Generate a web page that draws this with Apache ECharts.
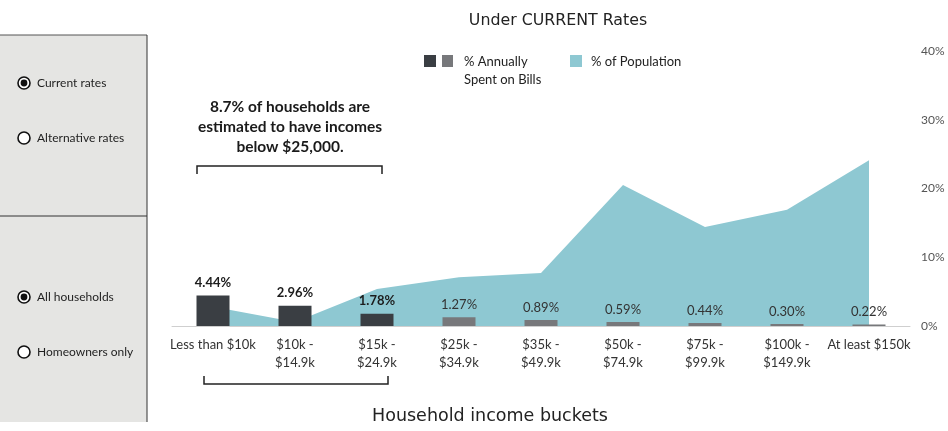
<!DOCTYPE html>
<html>
<head>
<meta charset="utf-8">
<script src="https://cdn.jsdelivr.net/npm/echarts@6/dist/echarts.min.js"></script>
<style>
  html, body { margin: 0; padding: 0; background: #ffffff; }
  #chart { width: 948px; height: 431px; }
</style>
</head>
<body>
<div id="chart"></div>
<script>
// Income buckets along the x axis
const categories = [
  'Less than $10k', '$10k -\n$14.9k', '$15k -\n$24.9k', '$25k -\n$34.9k',
  '$35k -\n$49.9k', '$50k -\n$74.9k', '$75k -\n$99.9k', '$100k -\n$149.9k',
  'At least $150k'
];
// Share of income spent on bills (%)
const billsPct = [4.44, 2.96, 1.78, 1.27, 0.89, 0.59, 0.44, 0.30, 0.22];
// Share of population in each bucket (%)
const populationPct = [2.8, 0.6, 5.4, 7.1, 7.7, 20.5, 14.4, 16.9, 24.1];
// Right axis ticks (%)
const yTicks = [0, 10, 20, 30, 40];
// Buckets below $25,000 drawn in the darker shade
const lowIncomeCount = 3;

const DARK = '#3a3e43';
const GREY = '#77787b';
const TEAL = '#8ec8d2';
const SANS = 'Lato, "Open Sans", sans-serif';
const GEO = '"DejaVu Sans", sans-serif';

const chart = echarts.init(document.getElementById('chart'), null, { renderer: 'canvas' });

// Radio-button side panel
function radio(y, label, selected) {
  const els = [
    { type: 'circle', shape: { cx: 24, cy: y, r: 6 },
      style: { fill: '#ffffff', stroke: '#111', lineWidth: 1.6 } },
    { type: 'text', x: 37, y: y, style: { text: label, font: '12px ' + SANS, fill: '#1e1e1e', verticalAlign: 'middle' } }
  ];
  if (selected) {
    els.push({ type: 'circle', shape: { cx: 24, cy: y, r: 3.4 }, style: { fill: '#111' } });
  }
  return els;
}

const graphics = [
  { type: 'rect', shape: { x: 0, y: 35, width: 147, height: 387 }, style: { fill: '#e5e5e3' }, z: -10 },
  { type: 'line', shape: { x1: 0, y1: 35, x2: 147, y2: 35 }, style: { stroke: '#555', lineWidth: 1 } },
  { type: 'line', shape: { x1: 147, y1: 35, x2: 147, y2: 422 }, style: { stroke: '#333', lineWidth: 1 } },
  { type: 'line', shape: { x1: 0, y1: 216, x2: 147, y2: 216 }, style: { stroke: '#333', lineWidth: 1 } },
  ...radio(83, 'Current rates', true),
  ...radio(138, 'Alternative rates', false),
  ...radio(297, 'All households', true),
  ...radio(352, 'Homeowners only', false),

  // Title
  { type: 'text', x: 558, y: 21, style: { text: 'Under CURRENT Rates', font: '15.8px ' + GEO, fill: '#222', align: 'center', verticalAlign: 'middle' } },

  // Legend
  { type: 'rect', shape: { x: 424, y: 55, width: 12, height: 12 }, style: { fill: DARK } },
  { type: 'rect', shape: { x: 442, y: 55, width: 11, height: 12 }, style: { fill: GREY } },
  { type: 'text', x: 464, y: 62, style: { text: '% Annually', font: '13px ' + SANS, fill: '#222', verticalAlign: 'middle' } },
  { type: 'text', x: 464, y: 80, style: { text: 'Spent on Bills', font: '13px ' + SANS, fill: '#222', verticalAlign: 'middle' } },
  { type: 'rect', shape: { x: 570, y: 55, width: 12, height: 12 }, style: { fill: TEAL } },
  { type: 'text', x: 591, y: 62, style: { text: '% of Population', font: '13px ' + SANS, fill: '#222', verticalAlign: 'middle' } },

  // Annotation with brackets around the three lowest buckets
  { type: 'text', x: 290, y: 127, style: {
      text: '8.7% of households are\nestimated to have incomes\nbelow $25,000.',
      font: 'bold 15.5px ' + SANS, lineHeight: 20, fill: '#1a1a1a', align: 'center', verticalAlign: 'middle' } },
  { type: 'polyline', shape: { points: [[197, 174], [197, 166], [382, 166], [382, 174]] },
    style: { stroke: '#222', lineWidth: 1.5, fill: null } },
  { type: 'polyline', shape: { points: [[204, 376], [204, 384], [388, 384], [388, 376]] },
    style: { stroke: '#222', lineWidth: 1.5, fill: null } },

  // Axis title
  { type: 'text', x: 490, y: 416, style: { text: 'Household income buckets', font: '17.5px ' + GEO, fill: '#222', align: 'center', verticalAlign: 'middle' } }
];

const option = {
  animation: false,
  backgroundColor: '#ffffff',
  grid: { left: 172, right: 38, top: 51, bottom: 105 },
  xAxis: {
    type: 'category',
    data: categories,
    boundaryGap: true,
    axisLine: { lineStyle: { color: '#cfcfcf', width: 1 } },
    axisTick: { show: false },
    axisLabel: { color: '#333', fontFamily: SANS, fontSize: 13, lineHeight: 18, margin: 10, interval: 0 }
  },
  yAxis: {
    type: 'value',
    position: 'right',
    min: yTicks[0],
    max: yTicks[yTicks.length - 1],
    interval: yTicks[1] - yTicks[0],
    axisLine: { show: false },
    axisTick: { show: false },
    splitLine: { show: false },
    axisLabel: { formatter: '{value}%', color: '#555', fontFamily: SANS, fontSize: 12, margin: 11 }
  },
  series: [
    {
      name: '% of Population',
      type: 'line',
      data: populationPct,
      symbol: 'none',
      lineStyle: { width: 0 },
      areaStyle: { color: TEAL, opacity: 1 },
      z: 1
    },
    {
      name: '% Annually Spent on Bills',
      type: 'bar',
      barWidth: 33,
      z: 3,
      data: billsPct.map((v, i) => ({
        value: v,
        itemStyle: { color: i < lowIncomeCount ? DARK : GREY },
        label: {
          fontWeight: i < lowIncomeCount ? 'bold' : 'normal',
          color: i < lowIncomeCount ? '#1c1c1c' : '#333'
        }
      })),
      label: {
        show: true,
        position: 'top',
        distance: 6,
        fontFamily: SANS,
        fontSize: 13,
        formatter: p => p.value.toFixed(2) + '%'
      }
    }
  ],
  graphic: graphics
};

chart.setOption(option);
</script>
</body>
</html>
